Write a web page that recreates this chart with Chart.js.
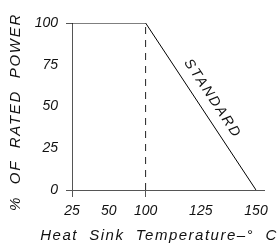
<!DOCTYPE html>
<html>
<head>
<meta charset="utf-8">
<script src="https://cdn.jsdelivr.net/npm/chart.js@4"></script>
<style>
  html, body { margin: 0; padding: 0; background: #fff; }
  #wrap { width: 278px; height: 246px; }
</style>
</head>
<body>
<div id="wrap"><canvas id="chart"></canvas></div>
<script>
// drawing is not to scale on x, so blank slots keep the label spacing of the original
const tempLabels = ['25', '', '50', '', '100', '', '', '125', '', '', '150']
const curveTemps = ['25', '100', '150']
const curvePower = [100, 100, 0]
const kneeTemps = ['100', '100']
const kneePower = [0, 100]
const powerTicks = [0, 25, 50, 75, 100]

const xTitle = 'Heat  Sink  Temperature–°  C'
const yTitle = '%  OF  RATED  POWER'

const fontFamily = '"Liberation Sans", Arial, sans-serif'
const axisColor = '#555'
const textColor = '#111'

// the original uses a wide CAD lettering, so captions are drawn here with letter spacing
const captions = {
    id: 'captions',
    afterDatasetsDraw(chart) {
        const ctx = chart.ctx
        const meta = chart.getDatasetMeta(0)
        const p1 = meta.data[1]
        const p2 = meta.data[2]
        const angle = Math.atan2(p2.y - p1.y, p2.x - p1.x)
        const mx = (p1.x + p2.x) / 2
        const my = (p1.y + p2.y) / 2
        const off = 14
        ctx.save()
        ctx.translate(mx + Math.sin(angle) * off, my - Math.cos(angle) * off)
        ctx.rotate(angle)
        ctx.font = 'italic 14px ' + fontFamily
        ctx.letterSpacing = '2px'
        ctx.fillStyle = textColor
        ctx.textAlign = 'center'
        ctx.textBaseline = 'middle'
        ctx.fillText('STANDARD', 0, 0)
        ctx.restore()
    },
    afterDraw(chart) {
        const ctx = chart.ctx
        const area = chart.chartArea
        // x axis runs a little past the last tick
        ctx.save()
        ctx.strokeStyle = axisColor
        ctx.lineWidth = 1
        ctx.beginPath()
        ctx.moveTo(area.right, Math.round(area.bottom) + 0.5)
        ctx.lineTo(area.right + 9, Math.round(area.bottom) + 0.5)
        ctx.stroke()

        ctx.fillStyle = textColor
        ctx.textAlign = 'center'
        ctx.textBaseline = 'middle'
        ctx.font = 'italic 15px ' + fontFamily
        ctx.letterSpacing = '1.5px'
        ctx.fillText(xTitle, 159, 236)

        ctx.letterSpacing = '1.7px'
        ctx.translate(16, 112)
        ctx.rotate(-Math.PI / 2)
        ctx.fillText(yTitle, 0, 0)
        ctx.restore()
    }
}

new Chart(document.getElementById('chart'), {
    type: 'line',
    data: {
        labels: tempLabels,
        datasets: [{
            data: curveTemps.map((t, i) => ({ x: t, y: curvePower[i] })),
            borderColor: '#000',
            borderWidth: 1,
            pointRadius: 0,
            tension: 0
        }, {
            data: kneeTemps.map((t, i) => ({ x: t, y: kneePower[i] })),
            borderColor: '#222',
            borderWidth: 1,
            borderDash: [7, 6],
            pointRadius: 0
        }]
    },
    options: {
        responsive: true,
        maintainAspectRatio: false,
        animation: false,
        layout: { padding: { top: 23, right: 22, left: 0, bottom: 0 } },
        plugins: {
            legend: { display: false },
            tooltip: { enabled: false }
        },
        scales: {
            x: {
                type: 'category',
                offset: false,
                afterFit: (scale) => { scale.height = 56 },
                border: { color: axisColor },
                grid: {
                    drawOnChartArea: false,
                    tickLength: 7,
                    color: (ctx) => (ctx.index === 0 || ctx.index === 4) ? axisColor : 'rgba(0,0,0,0)'
                },
                ticks: {
                    autoSkip: false,
                    maxRotation: 0,
                    padding: 6,
                    color: textColor,
                    font: { family: fontFamily, size: 14, style: 'italic' }
                }
            },
            y: {
                min: 0,
                max: 100,
                afterFit: (scale) => { scale.width = 72 },
                afterBuildTicks: (scale) => { scale.ticks = powerTicks.map(v => ({ value: v })) },
                border: { color: axisColor },
                grid: {
                    drawOnChartArea: false,
                    tickLength: 6,
                    color: (ctx) => (ctx.tick && (ctx.tick.value === 0 || ctx.tick.value === 100)) ? axisColor : 'rgba(0,0,0,0)'
                },
                ticks: {
                    padding: 8,
                    color: textColor,
                    font: { family: fontFamily, size: 14, style: 'italic' }
                }
            }
        }
    },
    plugins: [captions]
})
</script>
</body>
</html>
